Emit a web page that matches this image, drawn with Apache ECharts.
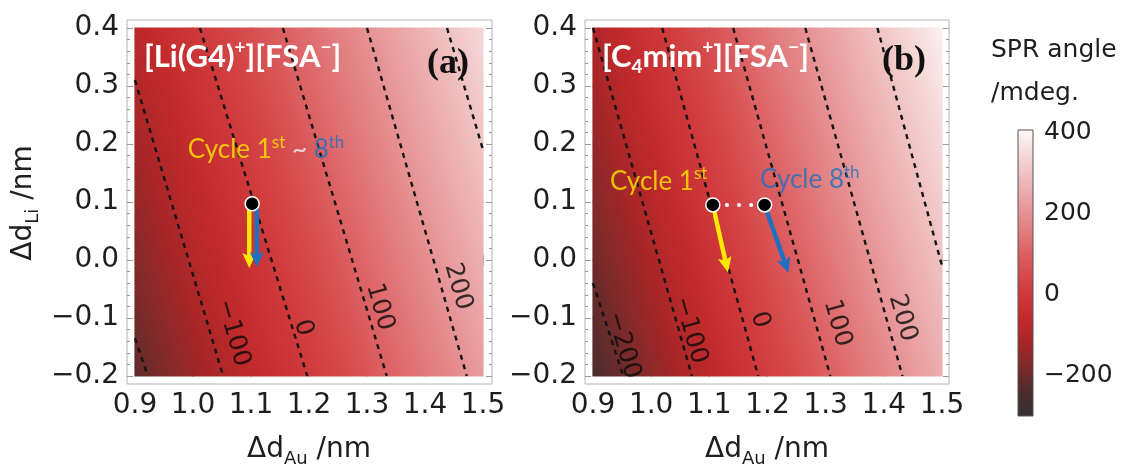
<!DOCTYPE html>
<html><head><meta charset="utf-8">
<script src="https://cdn.jsdelivr.net/npm/echarts@6/dist/echarts.min.js"></script>
<style>html,body{margin:0;padding:0;background:#fff}#c{width:1128px;height:468px}</style>
</head><body><div id="c"></div>
<script>
// ================= DATA =================
const X_NODES = [0.9, 1.0, 1.1, 1.2, 1.3, 1.4, 1.5];
const Y_NODES = [-0.2, -0.1, 0.0, 0.1, 0.2, 0.3, 0.4];
// SPR angle (mdeg) at the nodes, rows follow Y_NODES, columns follow X_NODES
const SPR_A = [
  [-216, -140, -67,   2,  75, 148, 220],
  [-193, -118, -46,  24,  96, 169, 241],
  [-170,  -96, -25,  45, 117, 189, 262],
  [-148,  -74,  -4,  67, 137, 210, 282],
  [-125,  -52,  17,  88, 158, 231, 303],
  [-102,  -30,  40, 110, 179, 251, 323],
  [ -79,   -8,  62, 131, 200, 272, 344]
];
const SPR_B = [
  [-244, -159, -74,  13,  94, 174, 255],
  [-220, -135, -51,  35, 116, 197, 277],
  [-196, -112, -28,  57, 139, 219, 300],
  [-172,  -88,  -4,  80, 161, 242, 322],
  [-148,  -64,  19, 103, 183, 264, 345],
  [-124,  -40,  43, 125, 206, 287, 367],
  [-100,  -16,  66, 148, 228, 309, 390]
];
// contour lines (dashed): level, and the two ends where it meets the plot edges
const CONTOUR_LEVELS_A = [-200, -100, 0, 100, 200, 300];
const CONTOUR_FROM_A = [[0.9, -0.135], [0.9, 0.31], [1.012, 0.4], [1.155, 0.4], [1.300, 0.4], [1.438, 0.4]];
const CONTOUR_TO_A   = [[0.922, -0.2], [1.052, -0.2], [1.197, -0.2], [1.334, -0.2], [1.472, -0.2], [1.5, 0.19]];
const CONTOUR_LEVELS_B = [-200, -100, 0, 100, 200, 300];
const CONTOUR_FROM_B = [[0.9, -0.04], [0.9, 0.4], [1.019, 0.4], [1.141, 0.4], [1.265, 0.4], [1.389, 0.4]];
const CONTOUR_TO_B   = [[0.952, -0.2], [1.070, -0.2], [1.184, -0.2], [1.308, -0.2], [1.432, -0.2], [1.5, -0.01]];
// contour labels
const CLABEL_LEVELS_A = [-100, 0, 100, 200];
const CLABEL_AT_A = [[1.069, -0.126], [1.190, -0.117], [1.322, -0.081], [1.457, -0.046]];
const CLABEL_LEVELS_B = [-200, -100, 0, 100, 200];
const CLABEL_AT_B = [[0.952, -0.147], [1.067, -0.121], [1.187, -0.103], [1.320, -0.109], [1.432, -0.100]];
// measured points and their shifts (cycle 1st = first, cycle 8th = second)
const POINTS_A = [[1.102, 0.097]];
const ARROW_FROM_A = [[1.097, 0.09], [1.110, 0.09]];
const ARROW_TO_A   = [[1.097, -0.014], [1.110, -0.012]];
const POINTS_B = [[1.106, 0.095], [1.195, 0.095]];
const ARROW_FROM_B = [[1.106, 0.095], [1.195, 0.095]];
const ARROW_TO_B   = [[1.132, -0.021], [1.236, -0.022]];
// annotation anchors (data coords)
const CYCLE_AT_A = [[0.991, 0.19]];
const CYCLE_AT_B = [[0.929, 0.136], [1.187, 0.138]];
// axes
const X_TICKS = [0.9, 1.0, 1.1, 1.2, 1.3, 1.4, 1.5];
const Y_TICKS = [-0.2, -0.1, 0.0, 0.1, 0.2, 0.3, 0.4];
const CB_RANGE = [-300, 405];
const CB_LABELS = [-200, 0, 200, 400];
const CB_TICKS = [-250, -200, -150, -100, -50, 0, 50, 100, 150, 200, 250, 300, 350, 400];

// ================= STYLE =================
const COLOR_STOPS = [
  [-300, '#353234'], [-240, '#4c2c2d'], [-180, '#7c2a2a'], [-120, '#a72627'],
  [-60, '#c22a2c'], [0, '#cf393a'], [60, '#d74e50'], [120, '#de6a6c'],
  [200, '#e69294'], [280, '#eeb9ba'], [350, '#f6dbdb'], [405, '#fdf8f8']
];
const ARROW_COLORS = ['#ffe800', '#1f70c1'];
const FRAME_COLOR = '#b4b4b4';
const TICK_COLOR = '#9a9a9a';
const TEXT = '#1e1e1e';
const SANS = 'DejaVu Sans';
const PANELS = [
  {left: 127, top: 20, width: 365, height: 364, padL: 8, padR: 9, padT: 8, padB: 8},
  {left: 585, top: 20, width: 364, height: 364, padL: 8, padR: 7, padT: 8, padB: 8}
];

function colorAt(v) {
  if (v <= COLOR_STOPS[0][0]) return COLOR_STOPS[0][1];
  for (let i = 1; i < COLOR_STOPS.length; i++) {
    if (v <= COLOR_STOPS[i][0]) {
      const a = COLOR_STOPS[i - 1], b = COLOR_STOPS[i];
      return echarts.color.lerp((v - a[0]) / (b[0] - a[0]), [a[1], b[1]]);
    }
  }
  return COLOR_STOPS[COLOR_STOPS.length - 1][1];
}
const fmtNum = (v, d) => (v < -1e-9 ? '\u2212' : '') + Math.abs(v).toFixed(d);
function minorBetween(ticks, n) {
  const out = [];
  for (let i = 0; i < ticks.length - 1; i++) {
    const s = (ticks[i + 1] - ticks[i]) / n;
    for (let k = 1; k < n; k++) out.push(ticks[i] + k * s);
  }
  return out;
}
const X_MINOR = minorBetween(X_TICKS, 5);
const Y_MINOR = minorBetween(Y_TICKS, 5);

function cellData(grid) {
  const out = [];
  for (let j = 0; j < Y_NODES.length - 1; j++)
    for (let i = 0; i < X_NODES.length - 1; i++)
      out.push([X_NODES[i], Y_NODES[j], X_NODES[i + 1], Y_NODES[j + 1],
        grid[j][i], grid[j][i + 1], grid[j + 1][i], grid[j + 1][i + 1]]);
  return out;
}
function renderCell(params, api) {
  const pA = api.coord([api.value(0), api.value(1)]);
  const pB = api.coord([api.value(2), api.value(3)]);
  const v00 = api.value(4), v10 = api.value(5), v01 = api.value(6), v11 = api.value(7);
  const w = pB[0] - pA[0], h = pA[1] - pB[1];
  const gx = ((v10 - v00) + (v11 - v01)) / 2 / w;
  const gy = -((v01 - v00) + (v11 - v10)) / 2 / h;
  const cx = (pA[0] + pB[0]) / 2, cy = (pA[1] + pB[1]) / 2, vc = (v00 + v10 + v01 + v11) / 4;
  const L = Math.min(pA[0], pB[0]) - 0.6, R = Math.max(pA[0], pB[0]) + 0.6;
  const T = Math.min(pA[1], pB[1]) - 0.6, B = Math.max(pA[1], pB[1]) + 0.6;
  const g2 = gx * gx + gy * gy;
  let fill;
  if (g2 < 1e-12) fill = colorAt(vc);
  else {
    const cv = [[L, T], [R, T], [L, B], [R, B]].map(p => vc + gx * (p[0] - cx) + gy * (p[1] - cy));
    const lo = Math.min(...cv), hi = Math.max(...cv);
    const k0 = (lo - vc) / g2, k1 = (hi - vc) / g2;
    const stops = [];
    for (let s = 0; s <= 6; s++) { const t = s / 6; stops.push({offset: t, color: colorAt(lo + t * (hi - lo))}); }
    fill = {type: 'linear', x: cx + gx * k0, y: cy + gy * k0, x2: cx + gx * k1, y2: cy + gy * k1, colorStops: stops, global: true};
  }
  return {type: 'rect', shape: {x: L, y: T, width: R - L, height: B - T}, style: {fill: fill}};
}
function renderArrow(params, api) {
  const p0 = api.coord([api.value(0), api.value(1)]);
  const p1 = api.coord([api.value(2), api.value(3)]);
  const color = ARROW_COLORS[api.value(4)];
  const dx = p1[0] - p0[0], dy = p1[1] - p0[1], len = Math.hypot(dx, dy);
  const ux = dx / len, uy = dy / len, nx = -uy, ny = ux;
  const HL = 15, HW = 7, SW = 4.5;
  const bx = p1[0] - ux * HL, by = p1[1] - uy * HL;
  const notchX = p1[0] - ux * HL * 0.8, notchY = p1[1] - uy * HL * 0.8;
  return {type: 'group', children: [
    {type: 'line', shape: {x1: p0[0], y1: p0[1], x2: notchX, y2: notchY}, style: {stroke: color, lineWidth: SW}},
    {type: 'polygon', shape: {points: [[p1[0], p1[1]], [bx + nx * HW, by + ny * HW], [notchX, notchY], [bx - nx * HW, by - ny * HW]]}, style: {fill: color}}
  ]};
}
function renderColorbar(params, api) {
  const pA = api.coord([api.value(0), api.value(1)]);
  const pB = api.coord([api.value(2), api.value(3)]);
  const lo = api.value(1), hi = api.value(3);
  const stops = COLOR_STOPS.filter(s => s[0] >= lo && s[0] <= hi).map(s => ({offset: (s[0] - lo) / (hi - lo), color: s[1]}));
  return {type: 'rect', shape: {x: pA[0], y: pB[1], width: pB[0] - pA[0], height: pA[1] - pB[1]},
    style: {fill: {type: 'linear', x: 0, y: pA[1], x2: 0, y2: pB[1], colorStops: stops, global: true}, stroke: '#555', lineWidth: 1}};
}

function axis(dim, gridIndex, position, min, max, ticks, tickLen, showLabels) {
  return {
    type: 'value', gridIndex, position, min, max,
    axisLine: {show: false}, splitLine: {show: false},
    axisTick: {show: true, inside: true, length: tickLen, customValues: ticks, lineStyle: {color: TICK_COLOR, width: 1}},
    axisLabel: {show: showLabels, customValues: ticks, formatter: v => fmtNum(v, 1),
      fontFamily: SANS, fontSize: 28, color: TEXT, margin: 8}
  };
}

const grids = [], xAxes = [], yAxes = [], series = [];
const PANEL_DATA = [
  {spr: SPR_A, lv: CONTOUR_LEVELS_A, from: CONTOUR_FROM_A, to: CONTOUR_TO_A, cl: CLABEL_LEVELS_A, cat: CLABEL_AT_A,
   pts: POINTS_A, af: ARROW_FROM_A, at: ARROW_TO_A, cyc: CYCLE_AT_A, dotted: false},
  {spr: SPR_B, lv: CONTOUR_LEVELS_B, from: CONTOUR_FROM_B, to: CONTOUR_TO_B, cl: CLABEL_LEVELS_B, cat: CLABEL_AT_B,
   pts: POINTS_B, af: ARROW_FROM_B, at: ARROW_TO_B, cyc: CYCLE_AT_B, dotted: true}
];
PANELS.forEach((p, k) => {
  grids.push({left: p.left, top: p.top, width: p.width, height: p.height, show: true,
    borderColor: FRAME_COLOR, borderWidth: 1, backgroundColor: 'transparent', outerBoundsMode: 'none'});
  const xr = X_TICKS[X_TICKS.length - 1] - X_TICKS[0], yr = Y_TICKS[Y_TICKS.length - 1] - Y_TICKS[0];
  const xu = xr / (p.width - p.padL - p.padR), yu = yr / (p.height - p.padT - p.padB);
  const xmin = X_TICKS[0] - p.padL * xu, xmax = X_TICKS[X_TICKS.length - 1] + p.padR * xu;
  const ymin = Y_TICKS[0] - p.padB * yu, ymax = Y_TICKS[Y_TICKS.length - 1] + p.padT * yu;
  const xi = xAxes.length, yi = yAxes.length;
  xAxes.push(axis('x', k, 'bottom', xmin, xmax, X_TICKS, 6, true));
  xAxes.push(axis('x', k, 'top', xmin, xmax, X_TICKS, 6, false));
  xAxes.push(axis('x', k, 'bottom', xmin, xmax, X_MINOR, 3, false));
  xAxes.push(axis('x', k, 'top', xmin, xmax, X_MINOR, 3, false));
  yAxes.push(axis('y', k, 'left', ymin, ymax, Y_TICKS, 6, true));
  yAxes.push(axis('y', k, 'right', ymin, ymax, Y_TICKS, 6, false));
  yAxes.push(axis('y', k, 'left', ymin, ymax, Y_MINOR, 3, false));
  yAxes.push(axis('y', k, 'right', ymin, ymax, Y_MINOR, 3, false));
  const d = PANEL_DATA[k];
  const ax = {xAxisIndex: xi, yAxisIndex: yi};
  series.push(Object.assign({type: 'custom', renderItem: renderCell, data: cellData(d.spr),
    encode: {x: [0, 2], y: [1, 3]}, z: 1, silent: true}, ax));
  d.lv.forEach((lv, i) => {
    series.push(Object.assign({type: 'line', name: 'c' + lv, data: [d.from[i], d.to[i]], symbol: 'none', z: 2,
      lineStyle: {color: '#141414', width: 2.4, type: [5, 5]}, silent: true}, ax));
  });
  series.push(Object.assign({type: 'scatter', data: d.cat.map((c, i) => [c[0], c[1], d.cl[i]]),
    symbolSize: 0.1, itemStyle: {color: 'rgba(0,0,0,0)'}, z: 3, silent: true,
    label: {show: true, position: 'inside', rotate: -74, formatter: q => fmtNum(q.value[2], 0),
      fontFamily: SANS, fontSize: 25, color: '#0a0a0a'}}, ax));
  if (d.dotted) {
    series.push(Object.assign({type: 'line', data: d.pts, symbol: 'none', z: 4,
      lineStyle: {color: '#ffffff', width: 4, type: [0.1, 12], cap: 'round', dashOffset: -2}, silent: true}, ax));
  }
  series.push(Object.assign({type: 'custom', renderItem: renderArrow, z: 4, silent: true,
    data: d.af.map((f, i) => [f[0], f[1], d.at[i][0], d.at[i][1], i]), encode: {x: [0, 2], y: [1, 3]}}, ax));
  series.push(Object.assign({type: 'scatter', data: d.pts, symbolSize: 14, z: 5, silent: true,
    itemStyle: {color: '#000', borderColor: '#fff', borderWidth: 1.5, opacity: 1}}, ax));
  const cycRich = {
    y: {color: '#fbe900', fontFamily: 'Lato', fontSize: 26, lineHeight: 32},
    ys: {color: '#fbe900', fontFamily: 'Lato', fontSize: 17, lineHeight: 17, verticalAlign: 'top'},
    w: {color: '#f4f4f4', fontFamily: 'Lato', fontSize: 26, lineHeight: 32},
    b: {color: '#1f70c1', fontFamily: 'Lato', fontSize: 26, lineHeight: 32},
    bs: {color: '#1f70c1', fontFamily: 'Lato', fontSize: 17, lineHeight: 17, verticalAlign: 'top'}
  };
  const cycTexts = k === 0 ? ['{y|Cycle 1}{ys|st}{w| ~ }{b|8}{bs|th}'] : ['{y|Cycle 1}{ys|st}', '{b|Cycle 8}{bs|th}'];
  series.push(Object.assign({type: 'scatter', data: d.cyc.map((c, i) => [c[0], c[1], i]),
    symbolSize: 0.1, itemStyle: {color: 'rgba(0,0,0,0)'}, z: 6, silent: true,
    label: {show: true, position: 'right', distance: 0, formatter: q => cycTexts[q.value[2]], rich: cycRich}}, ax));
});
// colorbar
grids.push({left: 1018, top: 130, width: 15, height: 286, show: false, outerBoundsMode: 'none'});
const cbx = xAxes.length, cby = yAxes.length;
xAxes.push({type: 'value', gridIndex: 2, min: 0, max: 1, show: false});
yAxes.push({type: 'value', gridIndex: 2, position: 'right', min: CB_RANGE[0], max: CB_RANGE[1],
  axisLine: {show: false}, splitLine: {show: false},
  axisTick: {show: true, inside: false, length: 5, customValues: CB_TICKS, lineStyle: {color: TICK_COLOR}},
  axisLabel: {show: true, customValues: CB_LABELS, formatter: v => fmtNum(v, 0), fontFamily: SANS, fontSize: 25, color: TEXT, margin: 11}});
series.push({type: 'custom', xAxisIndex: cbx, yAxisIndex: cby, renderItem: renderColorbar, silent: true,
  data: [[0, CB_RANGE[0], 1, CB_RANGE[1]]], encode: {x: [0, 2], y: [1, 3]}});

const mainRich = {
  m: {fontFamily: SANS, fontSize: 28, fill: TEXT, lineHeight: 36},
  s: {fontFamily: SANS, fontSize: 18, fill: TEXT, lineHeight: 18, verticalAlign: 'bottom'}
};
const titleRich = {
  t: {fontFamily: 'Lato', fontWeight: 'bold', fontSize: 31, fill: '#ffffff', lineHeight: 38},
  p: {fontFamily: 'Lato', fontWeight: 'bold', fontSize: 19, fill: '#ffffff', lineHeight: 19, verticalAlign: 'top'},
  s: {fontFamily: 'Lato', fontWeight: 'bold', fontSize: 19, fill: '#ffffff', lineHeight: 19, verticalAlign: 'bottom'}
};
const graphic = [
  {type: 'text', x: 24, y: 203, rotation: Math.PI / 2, z: 10,
    style: {text: '{m|\u0394d}{s|Li}{m| /nm}', rich: mainRich, fill: TEXT, align: 'center', verticalAlign: 'middle'}},
  {type: 'text', x: 309, y: 450, z: 10,
    style: {text: '{m|\u0394d}{s|Au}{m| /nm}', rich: mainRich, fill: TEXT, align: 'center', verticalAlign: 'middle'}},
  {type: 'text', x: 767, y: 450, z: 10,
    style: {text: '{m|\u0394d}{s|Au}{m| /nm}', rich: mainRich, fill: TEXT, align: 'center', verticalAlign: 'middle'}},
  {type: 'text', x: 144, y: 57, z: 10,
    style: {text: '{t|[Li(G4)}{p|+}{t|][FSA}{p|\u2212}{t|]}', rich: titleRich, fill: '#ffffff', align: 'left', verticalAlign: 'middle'}},
  {type: 'text', x: 602, y: 57, z: 10,
    style: {text: '{t|[C}{s|4}{t|mim}{p|+}{t|][FSA}{p|\u2212}{t|]}', rich: titleRich, fill: '#ffffff', align: 'left', verticalAlign: 'middle'}},
  {type: 'text', x: 448, y: 64, z: 10,
    style: {text: '(a)', font: 'bold 36px "Liberation Serif"', fill: '#111', align: 'center', verticalAlign: 'middle'}},
  {type: 'text', x: 904, y: 61, z: 10,
    style: {text: '(b)', font: 'bold 36px "Liberation Serif"', fill: '#111', align: 'center', verticalAlign: 'middle'}},
  {type: 'text', x: 991, y: 50, z: 10,
    style: {text: 'SPR angle', font: '25px "DejaVu Sans"', fill: TEXT, align: 'left', verticalAlign: 'middle'}},
  {type: 'text', x: 991, y: 93, z: 10,
    style: {text: '/mdeg.', font: '25px "DejaVu Sans"', fill: TEXT, align: 'left', verticalAlign: 'middle'}}
];

const chart = echarts.init(document.getElementById('c'), null, {renderer: 'canvas'});
chart.setOption({animation: false, backgroundColor: '#fff', grid: grids, xAxis: xAxes, yAxis: yAxes, series, graphic});
</script></body></html>
